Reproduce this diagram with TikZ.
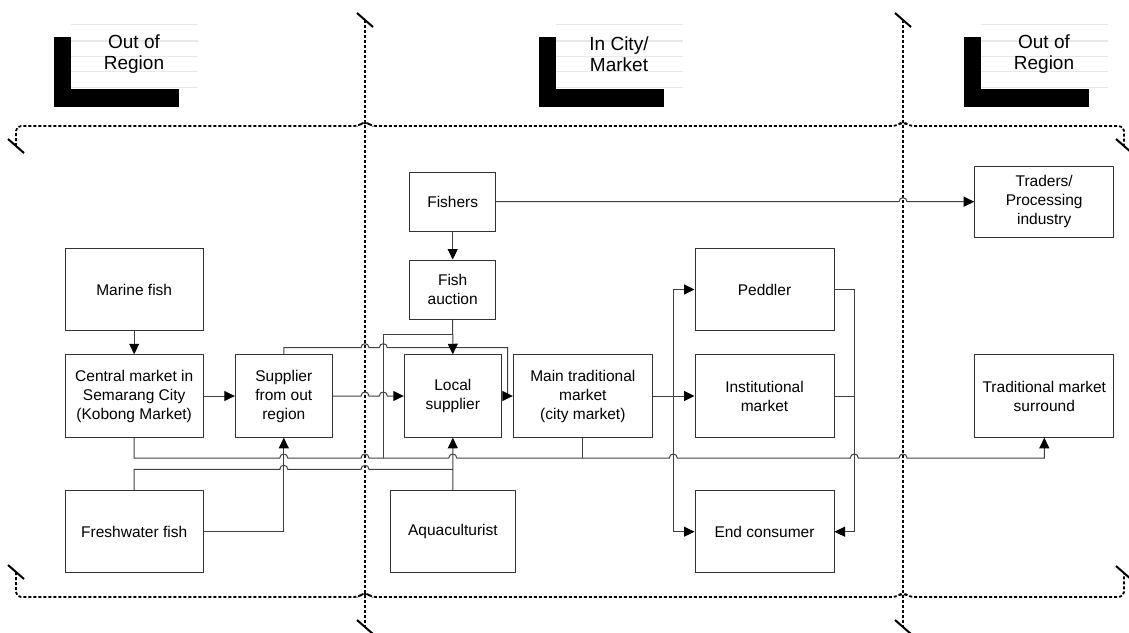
\documentclass[tikz,border=0pt]{standalone}
\usepackage{fontspec}
\setmainfont{Liberation Sans}
\usetikzlibrary{arrows.meta}
\begin{document}
\begin{tikzpicture}[x=1pt,y=-1pt,
  box/.style={draw=black!80, line width=1pt, fill=white, inner sep=0pt, align=center,
    font=\fontsize{15.5}{19}\selectfont},
  conn/.style={draw=black!75, line width=1pt},
  arr/.style={conn, -{Triangle[length=10.5pt,width=10pt,color=black]}},
  frame/.style={line width=1.8pt, dash pattern=on 3pt off 2pt, rounded corners=5pt},
  endtick/.style={line width=2pt},
  hop/.style 2 args={insert path={-- (#1-4,#2) .. controls (#1-4,#2-5.3) and (#1+4,#2-5.3) .. (#1+4,#2)}},
  rule/.style={draw=black!9, line width=1.3pt},
  lane/.style={font=\fontsize{19}{21.7}\selectfont, align=center, inner sep=0pt},
]
\useasboundingbox (0,0) rectangle (1129,632);

% ---- lane headers ----
\foreach \x/\name/\txt in {54/hdrA/{Out of\\Region}, 539/hdrB/{In City/\\Market}, 964/hdrC/{Out of\\Region}}{
  \foreach \y in {24.3,41,56.7,71.7,87.7}{
    \draw[rule] (\x+17,\y) -- (\x+143.7,\y);
  }
  \fill[black] (\x,36.7) rectangle (\x+16.7,106.7);
  \fill[black] (\x,89.3) rectangle (\x+125,106.7);
  \node[lane] (\name) at (\x+80,54.2) {\txt};
}

% ---- lane frame ----
\draw[frame] (16,146) -- (16,126) -- (359,126) -- (365,121) -- (371,126)
  -- (897,126) -- (903,121) -- (909,126) -- (1124,126) -- (1124,146);
\draw[frame] (16,572) -- (16,597) -- (359,597) -- (365,592) -- (371,597)
  -- (897,597) -- (903,592) -- (909,597) -- (1124,597) -- (1124,573);
\draw[frame] (365,20) -- (365,627);
\draw[frame] (903,20) -- (903,627);
\foreach \cx/\cy in {16/146, 1124/146, 16/572, 1124/573, 365/20, 903/20, 365/627, 903/627}{
  \draw[endtick] (\cx-8,\cy-7) -- (\cx+8,\cy+7);
}

% ---- boxes ----
\node[box, minimum width=138.3pt, minimum height=82.5pt] (marine) at (134.2,289.5) {Marine fish};
\node[box, minimum width=138.3pt, minimum height=82.5pt] (central) at (134.2,396) {Central market in\\Semarang City\\(Kobong Market)};
\node[box, minimum width=97pt, minimum height=82.5pt] (supplier) at (283.8,396) {Supplier\\from out\\region};
\node[box, minimum width=138.3pt, minimum height=82.5pt] (fresh) at (134.2,531.7) {Freshwater fish};
\node[box, minimum width=86pt, minimum height=58.7pt] (fishers) at (452.7,201.7) {Fishers};
\node[box, minimum width=86pt, minimum height=59pt] (auction) at (452.7,289.5) {Fish\\auction};
\node[box, minimum width=97pt, minimum height=82.5pt] (local) at (452.8,396) {Local\\supplier};
\node[box, minimum width=125pt, minimum height=82.5pt] (aqua) at (452.9,531.7) {Aquaculturist};
\node[box, minimum width=139pt, minimum height=82.5pt] (main) at (582.8,396) {Main traditional\\market\\(city market)};
\node[box, minimum width=139pt, minimum height=82.5pt] (peddler) at (764.5,289.5) {Peddler};
\node[box, minimum width=139pt, minimum height=82.5pt] (inst) at (764.5,396) {Institutional\\market};
\node[box, minimum width=139pt, minimum height=82.5pt] (endcons) at (764.5,531.7) {End consumer};
\node[box, minimum width=139pt, minimum height=71.3pt] (traders) at (1044.2,201.7) {Traders/\\Processing\\industry};
\node[box, minimum width=138.7pt, minimum height=82.5pt] (surround) at (1044.3,396) {Traditional market\\surround};

% ---- junction points ----
\coordinate (jbus) at (383.3,458);
\coordinate (jmain) at (582.8,458);
\coordinate (jfresh) at (452.8,469.3);
\coordinate (jinst) at (854.3,396);
\coordinate (jsplit) at (673.3,396);

% ---- connectors ----
\draw[arr] (marine.south) -- (central.north);
\draw[arr] (central.east) -- (supplier.west);
\draw[arr] (fresh.east) -| (supplier.south);
\draw[arr] (supplier.east) [hop={365}{396}] [hop={383.3}{396}] -- (local.west);
\draw[arr] (supplier.north) -- (283.8,347.7) [hop={365}{347.7}] [hop={383.3}{347.7}]
  -- (507.5,347.7) -- (507.5,396) -- (main.west);
\draw[arr] (central.south) -- (134.2,458) [hop={283.8}{458}] [hop={365}{458}]
  [hop={452.8}{458}] [hop={673.3}{458}] [hop={854.3}{458}] [hop={903}{458}]
  -- (1044.3,458) -- (surround.south);
\draw[conn] (jbus) -- (383.3,334) -- (452.7,334);
\draw[conn] (main.south) -- (jmain);
\draw[conn] (fresh.north) -- (134.2,469.3) [hop={283.8}{469.3}] [hop={365}{469.3}] -- (jfresh);
\draw[arr] (aqua.north) -- (local.south);
\draw[arr] (fishers.south) -- (auction.north);
\draw[arr] (auction.south) -- (local.north);
\draw[arr] (fishers.east) [hop={903}{201.7}] -- (traders.west);
\draw[arr] (main.east) -- (inst.west);
\draw[arr] (jsplit) |- (peddler.west);
\draw[arr] (jsplit) |- (endcons.west);
\draw[arr] (peddler.east) -- (854.3,289.5) -- (854.3,531.7) -- (endcons.east);
\draw[conn] (inst.east) -- (jinst);

\end{tikzpicture}
\end{document}
